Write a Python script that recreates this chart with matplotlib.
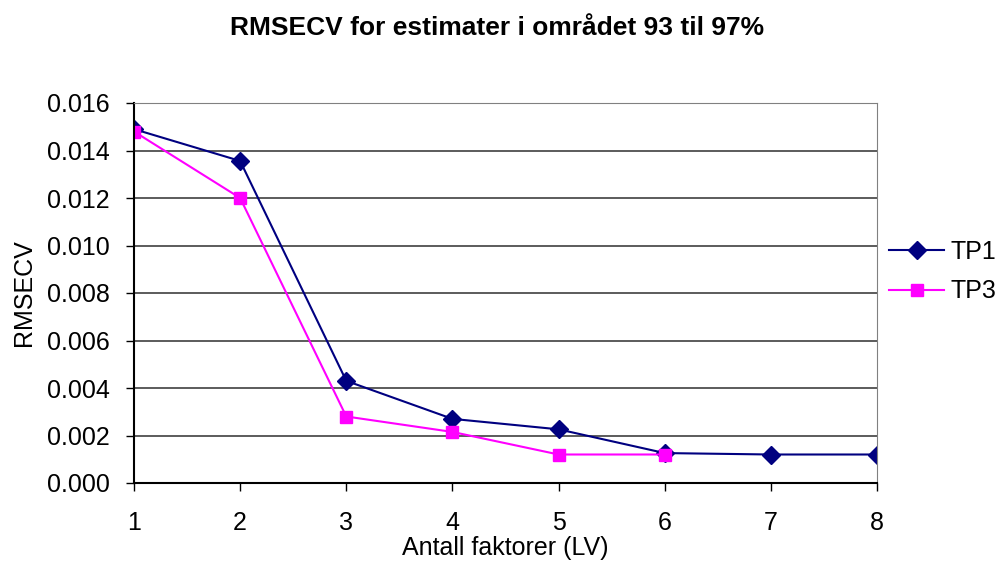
import matplotlib
matplotlib.use("Agg")
from matplotlib import pyplot as plt
from matplotlib.ticker import FormatStrFormatter

# antall faktorer (LV) og RMSECV for hver modell
factors = [1, 2, 3, 4, 5, 6, 7, 8]
tp1 = [0.0149, 0.01356, 0.0043, 0.0027, 0.00226, 0.00126, 0.0012, 0.0012]
tp3_factors = [1, 2, 3, 4, 5, 6]
tp3 = [0.0148, 0.0120, 0.0028, 0.00215, 0.0012, 0.0012]

plt.rcParams["font.family"] = ["Liberation Sans", "DejaVu Sans"]
W, H = 999, 561

fig = plt.figure(figsize=(W / 100, H / 100), dpi=100)
left, right, top, bottom = 134, 877, 103, 483
ax = fig.add_axes([left / W, 1 - bottom / H, (right - left) / W, (bottom - top) / H])

ax.plot(factors, tp1, color="#000080", marker="D", markersize=9.5, linewidth=1.5, label="TP1")
ax.plot(tp3_factors, tp3, color="#FF00FF", marker="s", markersize=8.5, linewidth=1.5, label="TP3")

ax.set_xlim(1, 8)
ax.set_ylim(0, 0.016)
ax.set_yticks([i * 0.002 for i in range(9)])
ax.set_xticks(factors)
ax.yaxis.set_major_formatter(FormatStrFormatter("%.3f"))
ax.tick_params(labelsize=18, length=5.5, width=1, color="black")
ax.tick_params(axis="x", pad=15)
ax.tick_params(axis="y", pad=12)
ax.grid(axis="y", color="#404040", linewidth=1.2)
ax.set_axisbelow(True)

for side in ("top", "right"):
    ax.spines[side].set_color("#808080")
for side in ("left", "bottom"):
    ax.spines[side].set_color("black")
    ax.spines[side].set_linewidth(1.5)

ax.set_xlabel("Antall faktorer (LV)", fontsize=18)
ax.xaxis.set_label_coords(0.5, -(555 - bottom) / (bottom - top))
ax.xaxis.label.set_va("baseline")
ax.set_ylabel("RMSECV", fontsize=18)
ax.yaxis.set_label_coords(-(left - 31) / (right - left), 0.5)
ax.yaxis.label.set_va("baseline")

fig.text(497 / W, 1 - 35 / H, "RMSECV for estimater i området 93 til 97%",
         fontsize=19, fontweight="bold", ha="center", va="baseline")

ax.legend(loc="upper left", bbox_to_anchor=(889 / W, 1 - 240 / H),
          bbox_transform=fig.transFigure, frameon=False, fontsize=18,
          handlelength=2.2, handletextpad=0.25, borderpad=0, borderaxespad=0,
          labelspacing=0.62)

fig.savefig("out.png", dpi=100)
